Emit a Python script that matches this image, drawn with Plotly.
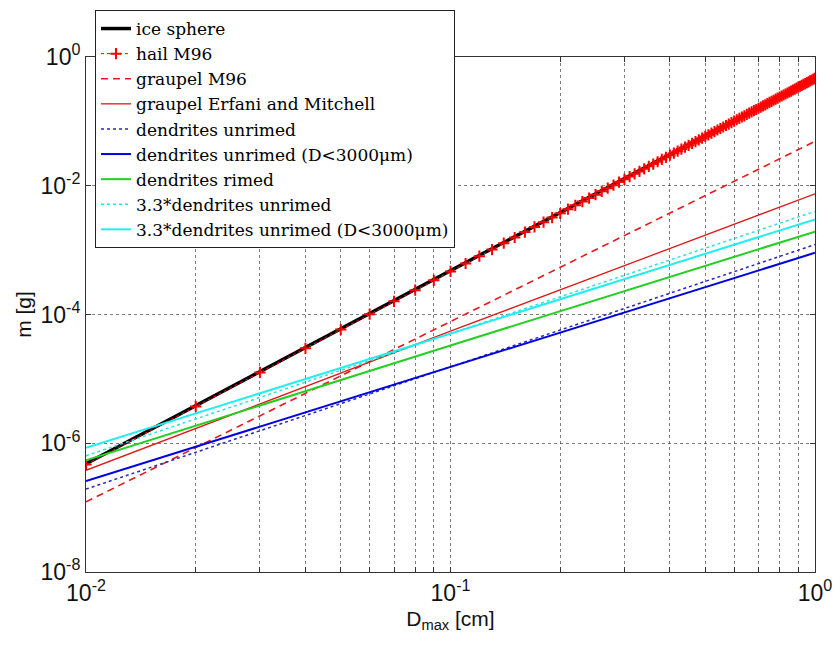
import plotly.graph_objects as go

# ---- data ----
D_line = [0.01, 0.1, 1.0]  # cm

ice_sphere = [4.8e-7, 4.8e-4, 0.48]
graupel_m96 = [1.23e-7, 7.8e-5, 0.049]
graupel_em = [3.8e-7, 5.5e-5, 7.5e-3]
dend_unrimed = [1.94e-7, 1.53e-5, 1.22e-3]
dend_unrimed_3000 = [2.58e-7, 1.53e-5, 9.1e-4]
dend_rimed = [5.45e-7, 3.3e-5, 1.94e-3]
dend_unrimed_x33 = [6.4e-7, 5.05e-5, 4.0e-3]
dend_unrimed_3000_x33 = [8.5e-7, 5.05e-5, 3.0e-3]

D_hail = [0.01, 0.02, 0.03, 0.04, 0.05, 0.06, 0.07, 0.08, 0.09, 0.10,
          0.11, 0.12, 0.13, 0.14, 0.15, 0.16, 0.17, 0.18, 0.19, 0.20,
          0.21, 0.22, 0.23, 0.24, 0.25, 0.26, 0.27, 0.28, 0.29, 0.30,
          0.31, 0.32, 0.33, 0.34, 0.35, 0.36, 0.37, 0.38, 0.39, 0.40,
          0.41, 0.42, 0.43, 0.44, 0.45, 0.46, 0.47, 0.48, 0.49, 0.50,
          0.51, 0.52, 0.53, 0.54, 0.55, 0.56, 0.57, 0.58, 0.59, 0.60,
          0.61, 0.62, 0.63, 0.64, 0.65, 0.66, 0.67, 0.68, 0.69, 0.70,
          0.71, 0.72, 0.73, 0.74, 0.75, 0.76, 0.77, 0.78, 0.79, 0.80,
          0.81, 0.82, 0.83, 0.84, 0.85, 0.86, 0.87, 0.88, 0.89, 0.90,
          0.91, 0.92, 0.93, 0.94, 0.95, 0.96, 0.97, 0.98, 0.99, 1.00]
hail_m96 = [4.66e-7, 3.73e-6, 1.26e-5, 2.98e-5, 5.83e-5, 1.01e-4, 1.60e-4, 2.39e-4, 3.40e-4, 4.66e-4,
            6.20e-4, 8.05e-4, 1.02e-3, 1.28e-3, 1.57e-3, 1.91e-3, 2.29e-3, 2.72e-3, 3.20e-3, 3.73e-3,
            4.32e-3, 4.96e-3, 5.67e-3, 6.44e-3, 7.28e-3, 8.19e-3, 9.17e-3, 1.02e-2, 1.14e-2, 1.26e-2,
            1.39e-2, 1.53e-2, 1.67e-2, 1.83e-2, 2.00e-2, 2.17e-2, 2.36e-2, 2.56e-2, 2.76e-2, 2.98e-2,
            3.21e-2, 3.45e-2, 3.71e-2, 3.97e-2, 4.25e-2, 4.54e-2, 4.84e-2, 5.15e-2, 5.48e-2, 5.83e-2,
            6.18e-2, 6.55e-2, 6.94e-2, 7.34e-2, 7.75e-2, 8.18e-2, 8.63e-2, 9.09e-2, 9.57e-2, 1.01e-1,
            1.06e-1, 1.11e-1, 1.17e-1, 1.22e-1, 1.28e-1, 1.34e-1, 1.40e-1, 1.47e-1, 1.53e-1, 1.60e-1,
            1.67e-1, 1.74e-1, 1.81e-1, 1.89e-1, 1.97e-1, 2.05e-1, 2.13e-1, 2.21e-1, 2.30e-1, 2.39e-1,
            2.48e-1, 2.57e-1, 2.66e-1, 2.76e-1, 2.86e-1, 2.96e-1, 3.07e-1, 3.18e-1, 3.29e-1, 3.40e-1,
            3.51e-1, 3.63e-1, 3.75e-1, 3.87e-1, 4.00e-1, 4.12e-1, 4.25e-1, 4.39e-1, 4.52e-1, 4.66e-1]

x_tickvals = [0.01, 0.02, 0.03, 0.04, 0.05, 0.06, 0.07, 0.08, 0.09,
              0.1, 0.2, 0.3, 0.4, 0.5, 0.6, 0.7, 0.8, 0.9, 1.0]
x_ticktext = ["10<sup>-2</sup>", "", "", "", "", "", "", "", "",
              "10<sup>-1</sup>", "", "", "", "", "", "", "", "", "10<sup>0</sup>"]
y_tickvals = [1e-8, 1e-6, 1e-4, 1e-2, 1.0]
y_ticktext = ["10<sup>-8</sup>", "10<sup>-6</sup>", "10<sup>-4</sup>", "10<sup>-2</sup>", "10<sup>0</sup>"]

fig = go.Figure()

fig.add_trace(go.Scatter(x=D_line, y=ice_sphere, mode="lines", name="ice sphere",
                         line=dict(color="black", width=3.5)))
fig.add_trace(go.Scatter(x=D_hail, y=hail_m96, mode="lines+markers", name="hail M96",
                         line=dict(color="#ff0000", width=1, dash="dot"),
                         marker=dict(symbol="cross-thin", size=8,
                                     line=dict(color="#ff0000", width=2))))
fig.add_trace(go.Scatter(x=D_line, y=graupel_m96, mode="lines", name="graupel M96",
                         line=dict(color="#e81818", width=1.6, dash="7px,5px")))
fig.add_trace(go.Scatter(x=D_line, y=graupel_em, mode="lines", name="graupel Erfani and Mitchell",
                         line=dict(color="#e01818", width=1.3)))
fig.add_trace(go.Scatter(x=D_line, y=dend_unrimed, mode="lines", name="dendrites unrimed",
                         line=dict(color="#2828c0", width=1.5, dash="dot")))
fig.add_trace(go.Scatter(x=D_line, y=dend_unrimed_3000, mode="lines",
                         name="dendrites unrimed (D<3000\u03bcm)",
                         line=dict(color="#0000e0", width=2)))
fig.add_trace(go.Scatter(x=D_line, y=dend_rimed, mode="lines", name="dendrites rimed",
                         line=dict(color="#22d022", width=2)))
fig.add_trace(go.Scatter(x=D_line, y=dend_unrimed_x33, mode="lines", name="3.3*dendrites unrimed",
                         line=dict(color="#30e0e0", width=1.5, dash="dot")))
fig.add_trace(go.Scatter(x=D_line, y=dend_unrimed_3000_x33, mode="lines",
                         name="3.3*dendrites unrimed (D<3000\u03bcm)",
                         line=dict(color="#20eef0", width=2)))

axis_common = dict(
    showline=True, linecolor="#333333", linewidth=1, mirror="ticks",
    ticks="inside", ticklen=5, tickcolor="#333333",
    showgrid=True, gridcolor="rgba(70,70,70,0.7)", griddash="dot", gridwidth=1,
    zeroline=False,
    tickfont=dict(family="Liberation Sans, Arial", size=23, color="#111111"),
)

fig.update_xaxes(type="log", range=[-2, 0], tickmode="array",
                 tickvals=x_tickvals, ticktext=x_ticktext,
                 title=dict(text="D<sub>max</sub> [cm]", standoff=6,
                            font=dict(family="Liberation Sans, Arial", size=21, color="#111111")),
                 **axis_common)
fig.update_yaxes(type="log", range=[-8, 0], tickmode="array",
                 tickvals=y_tickvals, ticktext=y_ticktext,
                 title=dict(text="m [g]", standoff=3,
                            font=dict(family="Liberation Sans, Arial", size=21, color="#111111")),
                 **axis_common)

fig.update_layout(
    width=837, height=646,
    margin=dict(l=86, r=22, t=57, b=74, autoexpand=False),
    paper_bgcolor="white", plot_bgcolor="white",
    showlegend=True,
    legend=dict(x=(95 - 86) / 729, y=(572 - 10) / 515, xanchor="left", yanchor="top",
                bgcolor="white", bordercolor="#222222", borderwidth=1,
                font=dict(family="DejaVu Serif, Liberation Serif", size=17, color="black"),
                tracegroupgap=0, itemwidth=30),
)

fig.write_html("out.html", config={"displayModeBar": False},
               post_script="document.body.style.margin='0px';")
